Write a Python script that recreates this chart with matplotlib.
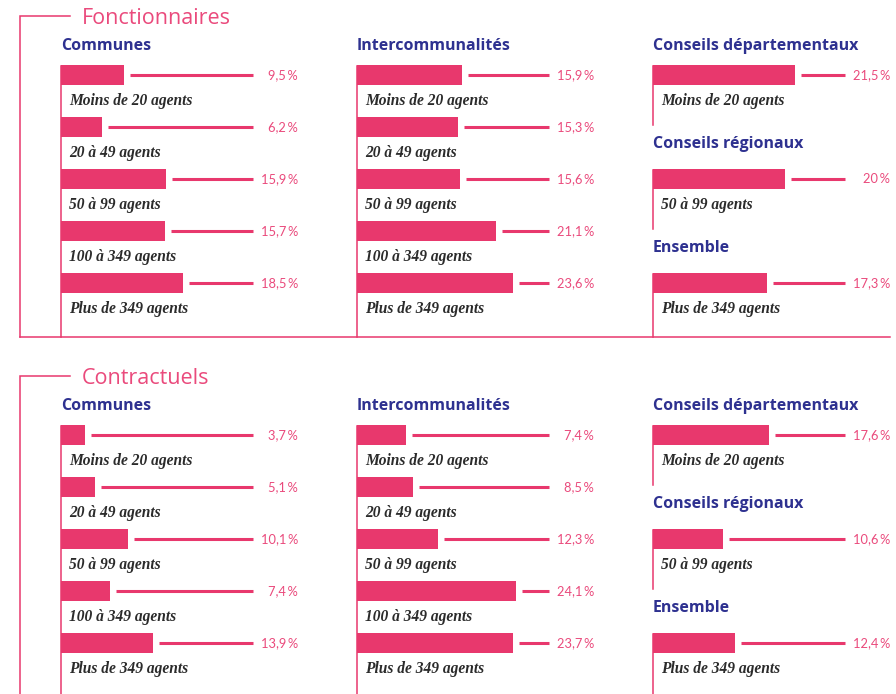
import matplotlib
matplotlib.use("Agg")
import matplotlib.pyplot as plt

# ---------------- data ----------------
sections = ["Fonctionnaires", "Contractuels"]
size_labels = ["Moins de 20 agents", "20 à 49 agents", "50 à 99 agents",
               "100 à 349 agents", "Plus de 349 agents"]

communes_fonc = [9.5, 6.2, 15.9, 15.7, 18.5]
interco_fonc = [15.9, 15.3, 15.6, 21.1, 23.6]
communes_contr = [3.7, 5.1, 10.1, 7.4, 13.9]
interco_contr = [7.4, 8.5, 12.3, 24.1, 23.7]

col3_headers = ["Conseils départementaux", "Conseils régionaux", "Ensemble"]
col3_labels = ["Moins de 20 agents", "50 à 99 agents", "Plus de 349 agents"]
col3_fonc = [21.5, 20.0, 17.3]
col3_contr = [17.6, 10.6, 12.4]

col_headers = ["Communes", "Intercommunalités"]

# ---------------- style ----------------
PINK = "#e8386d"
PINK_TXT = "#ea4a7c"
NAVY = "#2e3190"
DARK = "#2b2b2b"
W, H = 896, 694
PX_PER_PCT = 6.6
LINE_END = 192      # px from column left
LABEL_END = 237     # px from column left
ROW = 52
BAR_H = 20

TITLE_FONT = ["Open Sans", "DejaVu Sans"]
HEAD_FONT = ["Open Sans", "DejaVu Sans"]
LAB_FONT = ["Liberation Serif", "DejaVu Serif"]
NUM_FONT = ["Lato", "DejaVu Sans"]

fig = plt.figure(figsize=(W / 100, H / 100), dpi=100)
bg = fig.add_axes([0, 0, 1, 1])
bg.set_xlim(0, W)
bg.set_ylim(H, 0)
bg.axis("off")

def fmt(v):
    s = f"{v:.1f}".replace(".", ",")
    if s.endswith(",0"):
        s = s[:-2]
    return s + "\u2009%"

def col_axes(x0):
    span = W - x0
    ax = fig.add_axes([x0 / W, 0, span / W, 1])
    ax.set_xlim(0, span / PX_PER_PCT)
    ax.set_ylim(H, 0)
    ax.axis("off")
    ax.patch.set_alpha(0)
    return ax

def draw_bar(ax, yc, value, label):
    ax.barh([yc], [value], height=BAR_H, left=0, color=PINK, align="center")
    start = value + 6 / PX_PER_PCT
    end = LINE_END / PX_PER_PCT
    ax.plot([start, end], [yc, yc], color=PINK, lw=2.2, solid_capstyle="butt")
    ax.text(LABEL_END / PX_PER_PCT, yc, fmt(value), ha="right", va="center",
            color=PINK_TXT, fontsize=9.3, family=NUM_FONT)
    ax.text(8 / PX_PER_PCT, yc + 26, label, ha="left", va="center",
            color=DARK, fontsize=11.2, family=LAB_FONT,
            fontweight="bold", fontstyle="italic")

col_x = [61, 357, 653]
data = [(communes_fonc, interco_fonc, col3_fonc),
        (communes_contr, interco_contr, col3_contr)]

axes = [col_axes(x) for x in col_x]

for s, title in enumerate(sections):
    off = 360 * s
    bottom = 337 + off if s == 0 else H + 2
    # section bracket
    bg.plot([70, 20, 20], [16 + off, 16 + off, bottom], color=PINK, lw=1.1,
            solid_joinstyle="miter")
    if s == 0:
        bg.plot([20, 890], [bottom, bottom], color=PINK, lw=1.1)
    bg.text(82, 18 + off, title, ha="left", va="center", color=PINK_TXT,
            fontsize=15.5, family=TITLE_FONT)

    for c in range(2):
        x0 = col_x[c]
        bg.text(x0, 46 + off, col_headers[c], ha="left", va="center",
                color=NAVY, fontsize=11.5, family=HEAD_FONT, fontweight="bold")
        bg.plot([x0, x0], [66 + off, bottom], color=PINK, lw=1.1)
        vals = data[s][c]
        for i, v in enumerate(vals):
            draw_bar(axes[c], 75 + off + i * ROW, v, size_labels[i])

    # third column
    x0 = col_x[2]
    vals3 = data[s][2]
    for k in range(3):
        yc = 75 + off + k * 2 * ROW
        hy = yc - 29 if k == 0 else yc - 35
        bg.text(x0, hy, col3_headers[k], ha="left", va="center",
                color=NAVY, fontsize=11.5, family=HEAD_FONT, fontweight="bold")
        yend = bottom if k == 2 else yc + 50
        bg.plot([x0, x0], [yc - 9, yend], color=PINK, lw=1.1)
        draw_bar(axes[2], yc, vals3[k], col3_labels[k])

fig.savefig("out.png", dpi=100, facecolor="white")
